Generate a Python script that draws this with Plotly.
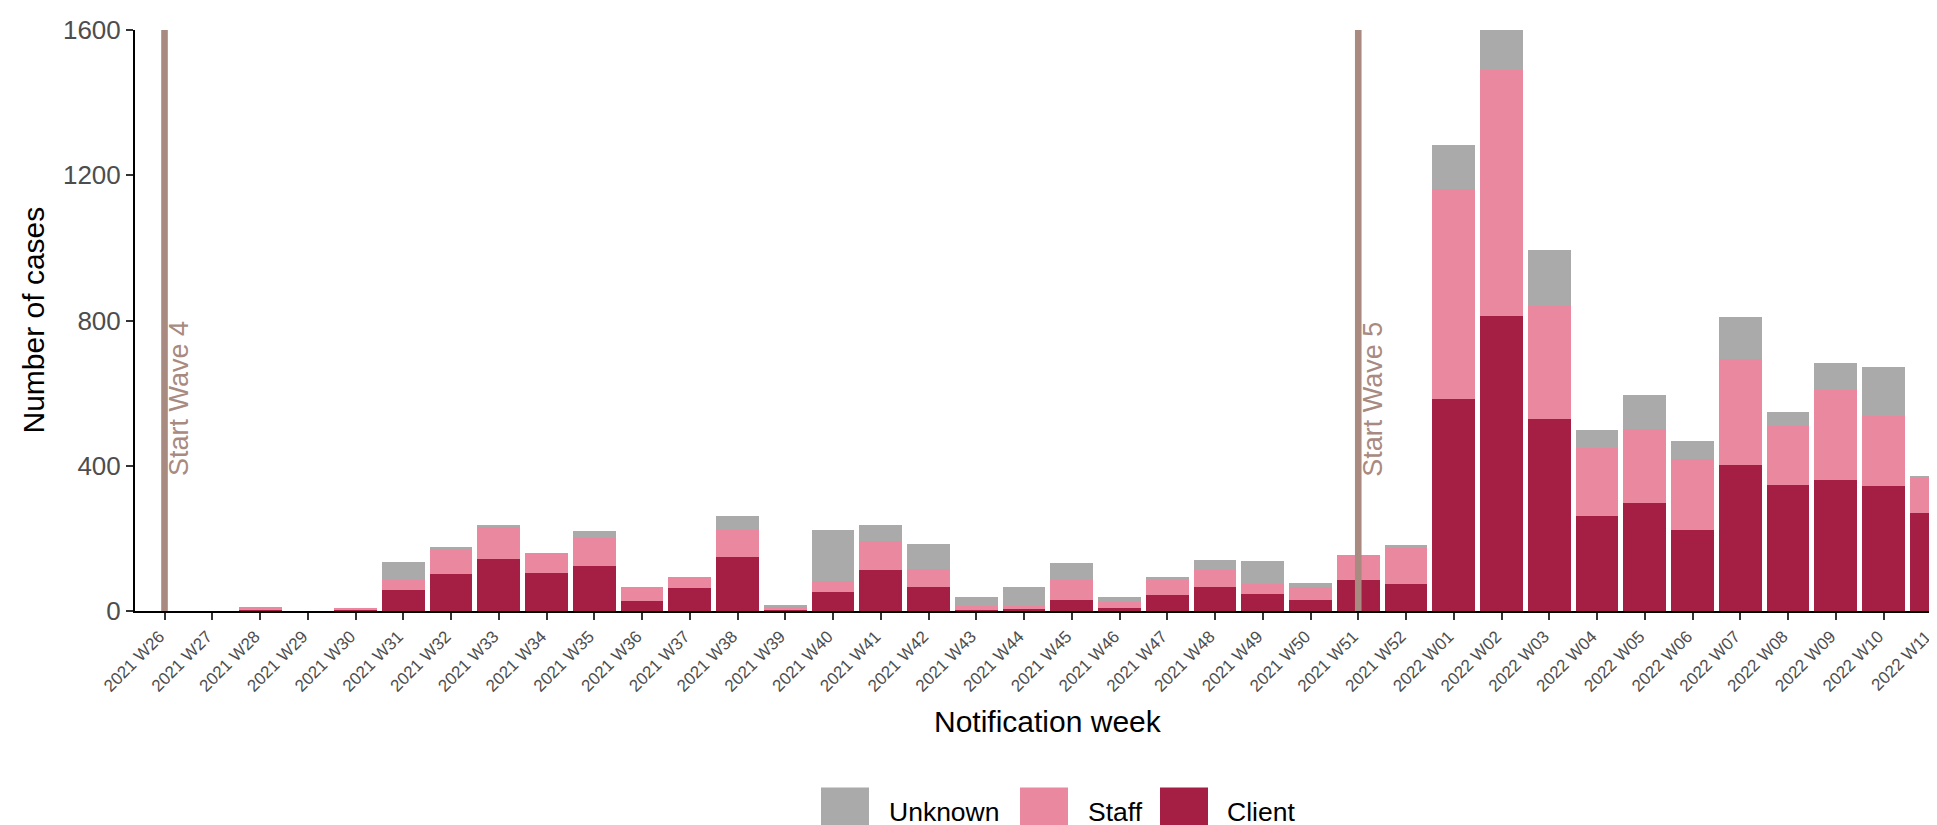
import plotly.graph_objects as go

weeks = ["2021 W26", "2021 W27", "2021 W28", "2021 W29", "2021 W30", "2021 W31",
         "2021 W32", "2021 W33", "2021 W34", "2021 W35", "2021 W36", "2021 W37",
         "2021 W38", "2021 W39", "2021 W40", "2021 W41", "2021 W42", "2021 W43",
         "2021 W44", "2021 W45", "2021 W46", "2021 W47", "2021 W48", "2021 W49",
         "2021 W50", "2021 W51", "2021 W52", "2022 W01", "2022 W02", "2022 W03",
         "2022 W04", "2022 W05", "2022 W06", "2022 W07", "2022 W08", "2022 W09",
         "2022 W10", "2022 W11"]

client = [0, 0, 3, 0, 2, 59, 101, 144, 106, 124, 28, 63, 148, 3, 53, 112, 65, 2,
          5, 31, 7, 45, 67, 47, 31, 86, 75, 583, 812, 528, 262, 297, 224, 401,
          348, 361, 343, 270]
staff = [0, 0, 8, 0, 7, 26, 70, 86, 55, 78, 37, 30, 75, 7, 29, 82, 51, 11,
         10, 54, 19, 41, 47, 26, 35, 68, 101, 580, 679, 311, 187, 203, 194, 293,
         161, 247, 194, 95]
unknown = [0, 0, 0, 0, 0, 49, 6, 7, 0, 17, 0, 0, 39, 7, 141, 43, 69, 26,
           52, 48, 13, 7, 27, 65, 10, 0, 5, 120, 120, 154, 50, 96, 51, 117,
           39, 74, 136, 6]

series_names = ["Client", "Staff", "Unknown"]
series_colors = ["#A51E44", "#EA889F", "#AAAAAA"]

wave_weeks = ["2021 W26", "2021 W51"]
wave_labels = ["Start Wave 4", "Start Wave 5"]
wave_label_y = 365
y_ticks = [0, 400, 800, 1200, 1600]

x_title = "Notification week"
y_title = "Number of cases"

FONT = "Liberation Sans, Arial, sans-serif"
LINE_COLOR = "#A88A81"

W, H = 1937, 825
ML, MR, MT, MB = 127, 0, 22, 222
PW, PH = W - ML - MR, H - MT - MB


def px_x(p):
    return (p - ML) / PW


def px_y(p):
    return (H - MB - p) / PH


fig = go.Figure()
for name, vals, col in zip(series_names, [client, staff, unknown], series_colors):
    fig.add_trace(go.Bar(
        x=weeks, y=vals, name=name, width=0.9,
        marker=dict(color=col, line=dict(width=0)),
        showlegend=False,
    ))

for wk in wave_weeks:
    fig.add_trace(go.Scatter(
        x=[wk, wk], y=[0, y_ticks[-1]], mode="lines",
        line=dict(color=LINE_COLOR, width=6.6), showlegend=False, hoverinfo="skip",
    ))

annotations = []
for wk, lab in zip(wave_weeks, wave_labels):
    annotations.append(dict(
        x=wk, y=wave_label_y, xref="x", yref="y", text=lab, showarrow=False,
        textangle=-90, xanchor="left", yanchor="bottom", xshift=-2.5,
        font=dict(family=FONT, size=27, color=LINE_COLOR),
    ))

# axis titles
annotations.append(dict(x=px_x(1039.5), y=px_y(713), xref="paper", yref="paper",
                        text=x_title, showarrow=False, xanchor="center", yanchor="middle",
                        font=dict(family=FONT, size=30, color="black")))
annotations.append(dict(x=px_x(25), y=0.5, xref="paper", yref="paper",
                        text=y_title, showarrow=False, xanchor="center", yanchor="middle",
                        textangle=-90,
                        font=dict(family=FONT, size=30, color="black")))

# legend (drawn manually to get large ggplot-style keys)
legend_items = [("Unknown", series_colors[2], 813, 880),
                ("Staff", series_colors[1], 1012, 1079),
                ("Client", series_colors[0], 1152, 1218)]
shapes = []
for lab, col, kx, tx in legend_items:
    shapes.append(dict(type="rect", xref="paper", yref="paper",
                       x0=px_x(kx), x1=px_x(kx + 48), y0=px_y(828), y1=px_y(779.5),
                       fillcolor=col, line=dict(width=0)))
    annotations.append(dict(x=px_x(tx - 1), y=px_y(803.5), xref="paper", yref="paper",
                            text=lab, showarrow=False, xanchor="left", yanchor="middle",
                            font=dict(family=FONT, size=26.5, color="black")))

fig.update_layout(
    width=W, height=H,
    margin=dict(l=ML, r=MR, t=MT, b=MB, autoexpand=False),
    paper_bgcolor="white", plot_bgcolor="white",
    barmode="stack", bargap=0.1,
    font=dict(family=FONT),
    shapes=shapes, annotations=annotations,
    xaxis=dict(
        type="category", categoryorder="array", categoryarray=weeks,
        range=[-0.618, 37.288], showgrid=False, zeroline=False,
        showline=True, linecolor="black", linewidth=2,
        ticks="outside", ticklen=7, tickwidth=2, tickcolor="#333333",
        tickangle=-45, tickfont=dict(family=FONT, size=17, color="#4D4D4D"),
        ticklabelshift=-5,
        automargin=False,
    ),
    yaxis=dict(
        range=[0, 1600], tickvals=y_ticks, showgrid=False, zeroline=False,
        showline=True, linecolor="black", linewidth=2,
        ticks="outside", ticklen=7, tickwidth=2, tickcolor="#333333",
        tickfont=dict(family=FONT, size=26, color="#4D4D4D"),
        automargin=False,
    ),
)

fig.write_html("out.html")
